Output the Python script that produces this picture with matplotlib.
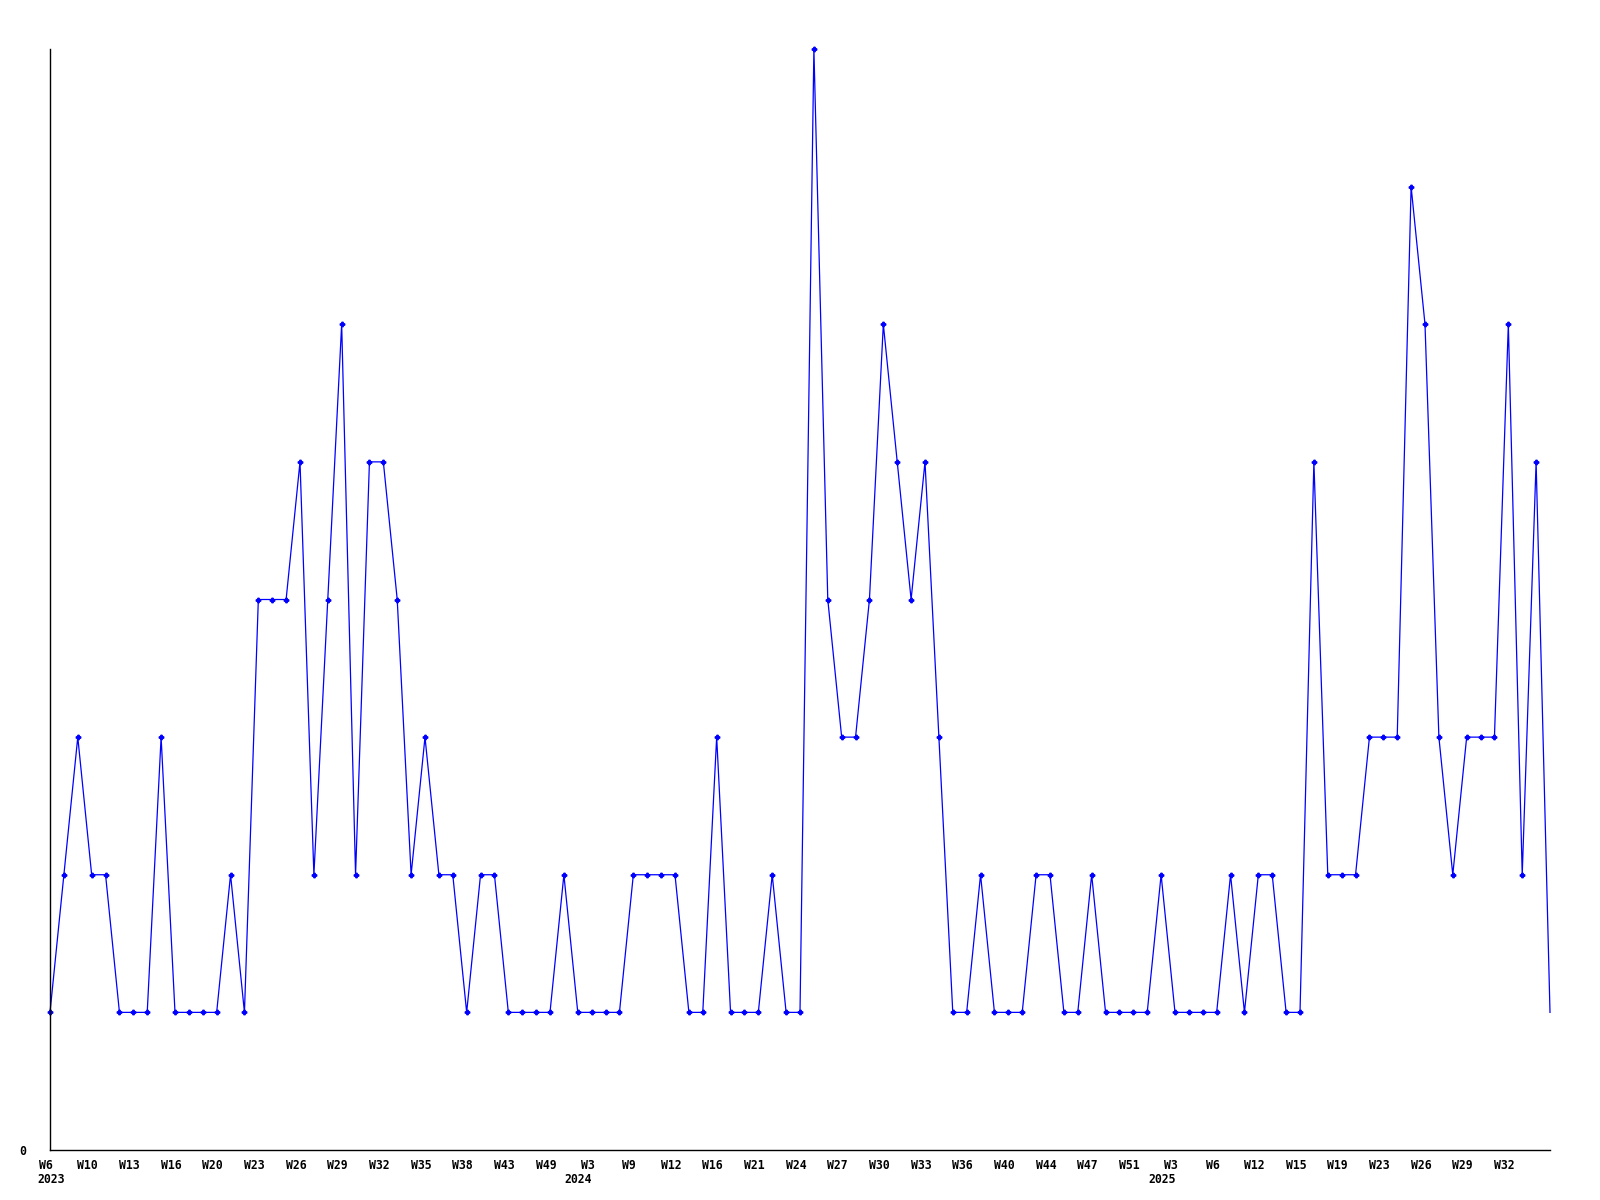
import matplotlib
matplotlib.use("Agg")
import matplotlib.pyplot as plt
import matplotlib.transforms as mtransforms

# weekly counts, one per point (x is just the point index)
values = [1, 2, 3, 2, 2, 1, 1, 1, 3, 1,
          1, 1, 1, 2, 1, 4, 4, 4, 5, 2,
          4, 6, 2, 5, 5, 4, 2, 3, 2, 2,
          1, 2, 2, 1, 1, 1, 1, 2, 1, 1,
          1, 1, 2, 2, 2, 2, 1, 1, 3, 1,
          1, 1, 2, 1, 1, 8, 4, 3, 3, 4,
          6, 5, 4, 5, 3, 1, 1, 2, 1, 1,
          1, 2, 2, 1, 1, 2, 1, 1, 1, 1,
          2, 1, 1, 1, 1, 2, 1, 2, 2, 1,
          1, 5, 2, 2, 2, 3, 3, 3, 7, 6,
          3, 2, 3, 3, 3, 6, 2, 5, 1]

week_labels = ["W6", "W10", "W13", "W16", "W20", "W23", "W26", "W29", "W32",
               "W35", "W38", "W43", "W49", "W3", "W9", "W12", "W16", "W21",
               "W24", "W27", "W30", "W33", "W36", "W40", "W44", "W47", "W51",
               "W3", "W6", "W12", "W15", "W19", "W23", "W26", "W29", "W32"]
label_step = 3

year_label_pos = [0, 13, 27]   # index into week_labels
year_labels = ["2023", "2024", "2025"]

font = {"family": "DejaVu Sans Mono", "weight": "bold", "size": 8.3}

fig = plt.figure(figsize=(16, 12), dpi=100)
ax = fig.add_axes([50 / 1600, 1 - 1150 / 1200, 1500 / 1600, 1101 / 1200])

x = list(range(len(values)))
# last point has no marker in the original (it sits on the right edge)
ax.plot(x, values, color="#0000ff", linewidth=0.9, marker="P", markersize=3.2,
        markevery=list(range(len(values) - 1)), clip_on=False)

ax.set_xlim(0, len(values) - 1)
ax.set_ylim(0, max(values))

for side in ["top", "right"]:
    ax.spines[side].set_visible(False)
for side in ["left", "bottom"]:
    ax.spines[side].set_linewidth(1.0)
    ax.spines[side].set_color("black")

tick_pos = [i * label_step for i in range(len(week_labels))]
ax.set_xticks(tick_pos)
ax.set_xticklabels(week_labels, fontdict=font)
ax.set_yticks([0])
ax.set_yticklabels(["0"], fontdict=font)
ax.tick_params(axis="x", length=0, pad=6.5)
ax.tick_params(axis="y", length=0, pad=17)

shift = mtransforms.ScaledTranslation(-4 / 100, 0, fig.dpi_scale_trans)
for lab in ax.get_xticklabels():
    lab.set_transform(lab.get_transform() + shift)

for k, (pos, yr) in enumerate(zip(year_label_pos, year_labels)):
    dx = 1 if k == 0 else -9.5
    ax.annotate(yr, xy=(tick_pos[pos], 0), xycoords=("data", "axes fraction"),
                xytext=(dx, -16.5), textcoords="offset points",
                ha="center", va="top", annotation_clip=False, **font)

fig.savefig("out.png", dpi=100, facecolor="white")
